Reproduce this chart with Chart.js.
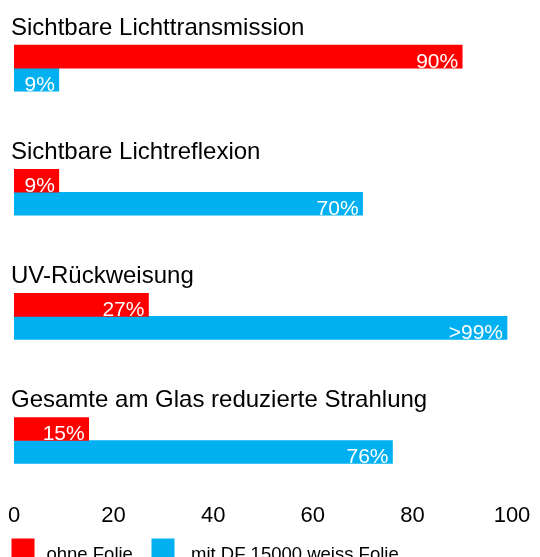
<!DOCTYPE html>
<html lang="de">
<head>
<meta charset="utf-8">
<title>Sonnenschutzfolie – Kennwerte</title>
<script src="https://cdn.jsdelivr.net/npm/chart.js@4/dist/chart.umd.min.js"></script>
<style>
  html, body { margin: 0; padding: 0; background: #ffffff; }
  #chart { display: block; }
</style>
</head>
<body>
<canvas id="chart" width="540" height="557"></canvas>
<script>
// Kennwerte je Kategorie (Prozent)
const categories = [
  'Sichtbare Lichttransmission',
  'Sichtbare Lichtreflexion',
  'UV-Rückweisung',
  'Gesamte am Glas reduzierte Strahlung'
];
const seriesNames = ['ohne Folie', 'mit DF 15000 weiss Folie'];
const ohneFolie = [90, 9, 27, 15];
const mitFolie = [9, 70, 99, 76];
// Beschriftung der Balken
const ohneFolieText = ['90%', '9%', '27%', '15%'];
const mitFolieText = ['9%', '70%', '>99%', '76%'];
const xTicks = [0, 20, 40, 60, 80, 100];

const FONT = "'Liberation Sans', Arial, Helvetica, sans-serif";
const RED = '#FF0000';
const BLUE = '#00B0F0';

// Kategorietitel oberhalb jeder Balkengruppe
const groupTitles = {
  id: 'groupTitles',
  afterDatasetsDraw(chart) {
    const { ctx } = chart;
    const y = chart.scales.y;
    ctx.save();
    ctx.fillStyle = '#000000';
    ctx.font = '24px ' + FONT;
    ctx.textAlign = 'left';
    ctx.textBaseline = 'alphabetic';
    chart.data.labels.forEach((label, i) => {
      ctx.fillText(label, 11, y.getPixelForValue(i) - 33.4);
    });
    ctx.restore();
  }
};

// Weiße Werte am rechten Balkenende
const barValues = {
  id: 'barValues',
  afterDatasetsDraw(chart) {
    const { ctx } = chart;
    const texts = [ohneFolieText, mitFolieText];
    ctx.save();
    ctx.fillStyle = '#FFFFFF';
    ctx.font = '21px ' + FONT;
    ctx.textAlign = 'right';
    ctx.textBaseline = 'alphabetic';
    chart.data.datasets.forEach((ds, d) => {
      chart.getDatasetMeta(d).data.forEach((bar, i) => {
        const bottom = bar.y + bar.height / 2;
        ctx.fillText(texts[d][i], bar.x - 4, bottom - 0.5);
      });
    });
    ctx.restore();
  }
};

// Legende unten links
const bottomLegend = {
  id: 'bottomLegend',
  afterDraw(chart) {
    const { ctx } = chart;
    const items = [
      { box: 11.5, text: 46.5 },
      { box: 151.5, text: 191 }
    ];
    ctx.save();
    ctx.font = '18.5px ' + FONT;
    ctx.textAlign = 'left';
    ctx.textBaseline = 'alphabetic';
    chart.data.datasets.forEach((ds, d) => {
      ctx.fillStyle = ds.backgroundColor;
      ctx.fillRect(items[d].box, 538.5, 23, 22);
      ctx.fillStyle = '#000000';
      ctx.fillText(ds.label, items[d].text, 559.5);
    });
    ctx.restore();
  }
};

new Chart(document.getElementById('chart'), {
  type: 'bar',
  data: {
    labels: categories,
    datasets: [
      { label: seriesNames[0], data: ohneFolie, backgroundColor: RED, barThickness: 23 },
      { label: seriesNames[1], data: mitFolie, backgroundColor: BLUE, barThickness: 23 }
    ]
  },
  options: {
    indexAxis: 'y',
    responsive: false,
    animation: false,
    devicePixelRatio: 1,
    layout: { padding: { left: 14, right: 28, top: 6, bottom: 28 } },
    plugins: {
      legend: { display: false },
      tooltip: { enabled: false },
      title: { display: false }
    },
    scales: {
      y: { display: false },
      x: {
        min: 0,
        max: 100,
        afterBuildTicks(scale) {
          scale.ticks = xTicks.map(v => ({ value: v }));
        },
        grid: { display: false, drawTicks: false },
        border: { display: false },
        ticks: {
          padding: 0,
          maxRotation: 0,
          color: '#000000',
          font: { family: FONT, size: 22 }
        }
      }
    }
  },
  plugins: [groupTitles, barValues, bottomLegend]
});
</script>
</body>
</html>
